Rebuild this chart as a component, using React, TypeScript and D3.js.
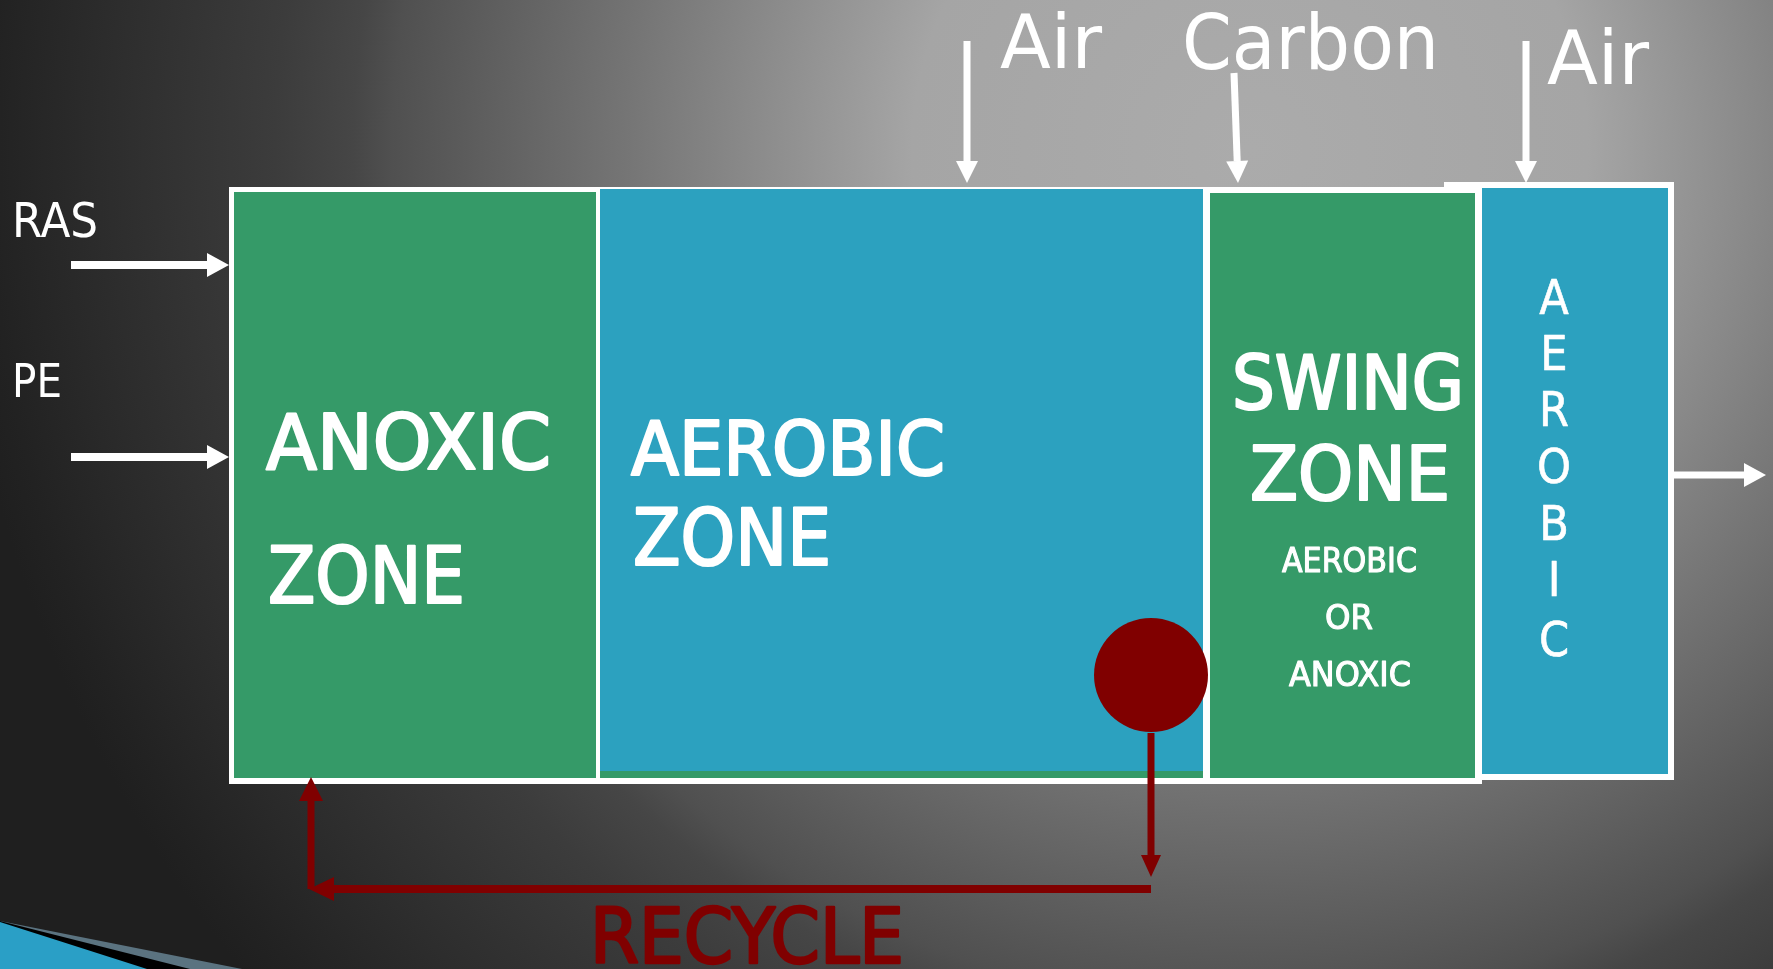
import React, { useRef, useEffect } from 'react';
import * as d3 from 'd3';

// labels of the diagram
const feedLabels = ['Air', 'Carbon', 'Air'];
const inflowLabels = ['RAS', 'PE'];
const zoneLabels = [['ANOXIC', 'ZONE'], ['AEROBIC', 'ZONE'], ['SWING', 'ZONE']];
const swingSubLabels = ['AEROBIC', 'OR', 'ANOXIC'];
const sideZoneLetters = ['A', 'E', 'R', 'O', 'B', 'I', 'C'];
const recycleLabel = 'RECYCLE';

const W = 1773;
const H = 969;
const GREEN = '#359a68';
const BLUE = '#2ca1bf';
const RED = '#800000';
const FONT = '"DejaVu Sans Condensed", "DejaVu Sans", sans-serif';

function App() {
    const ref = useRef(null);

    useEffect(() => {
        const svg = d3.select(ref.current);
        svg.selectAll('*').remove();

        // background
        const defs = svg.append('defs');
        const grad = defs.append('radialGradient')
            .attr('id', 'bg')
            .attr('gradientUnits', 'userSpaceOnUse')
            .attr('cx', 1250).attr('cy', 150).attr('r', 1300);
        [[0, '#ababab'], [0.26, '#a5a5a5'], [0.48, '#757575'], [0.66, '#505050'], [0.69, '#464646'], [0.75, '#3c3c3c'], [0.97, '#222'], [1, '#1f1f1f']]
            .forEach(([o, c]) => grad.append('stop').attr('offset', o).attr('stop-color', c));
        svg.append('rect').attr('width', W).attr('height', H).attr('fill', 'url(#bg)');

        // template swoosh bottom left
        const sw = svg.append('g');
        sw.append('polygon').attr('points', '0,921 242,969 0,969').attr('fill', '#5b7380');
        sw.append('polygon').attr('points', '0,921 190,969 0,969').attr('fill', '#000');
        sw.append('polygon').attr('points', '0,922 147,969 0,969').attr('fill', '#2a9fc6');

        // boxes
        const g = svg.append('g');
        g.append('rect').attr('x', 229).attr('y', 187).attr('width', 1482 - 229).attr('height', 784 - 187).attr('fill', '#fff');
        g.append('rect').attr('x', 234).attr('y', 192).attr('width', 596 - 234).attr('height', 778 - 192).attr('fill', GREEN);
        g.append('rect').attr('x', 600).attr('y', 771).attr('width', 1203 - 600).attr('height', 7).attr('fill', GREEN);
        g.append('rect').attr('x', 600).attr('y', 189).attr('width', 1203 - 600).attr('height', 771 - 189).attr('fill', BLUE);
        g.append('rect').attr('x', 1210).attr('y', 193).attr('width', 1475 - 1210).attr('height', 778 - 193).attr('fill', GREEN);
        g.append('rect').attr('x', 1444).attr('y', 182).attr('width', 40).attr('height', 6).attr('fill', '#fff');
        g.append('rect').attr('x', 1475).attr('y', 182).attr('width', 1674 - 1475).attr('height', 780 - 182).attr('fill', '#fff');
        g.append('rect').attr('x', 1482).attr('y', 188).attr('width', 1668 - 1482).attr('height', 774 - 188).attr('fill', BLUE);

        // arrows
        const arrow = (x1, y1, x2, y2, color, sw, head, half) => {
            const a = Math.atan2(y2 - y1, x2 - x1);
            const bx = x2 - head * Math.cos(a), by = y2 - head * Math.sin(a);
            svg.append('line')
                .attr('x1', x1).attr('y1', y1).attr('x2', bx).attr('y2', by)
                .attr('stroke', color).attr('stroke-width', sw);
            const px = -Math.sin(a) * half, py = Math.cos(a) * half;
            svg.append('polygon')
                .attr('points', [[x2, y2], [bx + px, by + py], [bx - px, by - py]].map(p => p.join(',')).join(' '))
                .attr('fill', color);
        };

        const feedX = [[967, 967], [1234, 1238], [1526, 1526]];
        const feedTop = [41, 73, 41];
        feedLabels.forEach((d, i) => arrow(feedX[i][0], feedTop[i], feedX[i][1], 183, '#fff', 7, 22, 11));
        const inflowY = [265, 457];
        inflowLabels.forEach((d, i) => arrow(71, inflowY[i], 229, inflowY[i], '#fff', 8, 22, 12));
        arrow(1674, 475, 1766, 475, '#fff', 7, 22, 12);

        // recycle loop
        svg.append('ellipse').attr('cx', 1151).attr('cy', 675).attr('rx', 57).attr('ry', 57).attr('fill', RED);
        arrow(1151, 733, 1151, 877, RED, 7, 22, 10);
        svg.append('line').attr('x1', 1151).attr('y1', 889).attr('x2', 330).attr('y2', 889)
            .attr('stroke', RED).attr('stroke-width', 8);
        arrow(330, 889, 309, 889, RED, 8, 25, 12);
        arrow(311, 889, 311, 777, RED, 7, 24, 12);

        // text helper
        const label = (t, x, y, w, fs, opts = {}) => {
            const color = opts.color || '#fff';
            const el = svg.append('text')
                .attr('x', x).attr('y', y)
                .attr('fill', color)
                .attr('font-family', FONT)
                .attr('font-size', fs)
                .attr('text-anchor', opts.anchor || 'start')
                .text(t);
            if (opts.heavy) el.attr('stroke', color).attr('stroke-width', opts.heavy).attr('stroke-linejoin', 'round');
            if (w) el.attr('textLength', w).attr('lengthAdjust', 'spacingAndGlyphs');
            return el;
        };

        const feedPos = [[1000, 68, 102, 74], [1182, 69, 257, 77], [1547, 84, 102, 75]];
        feedLabels.forEach((d, i) => label(d, feedPos[i][0], feedPos[i][1], feedPos[i][2], feedPos[i][3]));
        const inflowPos = [[12, 237, 86, 48], [12, 397, 50, 47]];
        inflowLabels.forEach((d, i) => label(d, inflowPos[i][0], inflowPos[i][1], inflowPos[i][2], inflowPos[i][3]));

        const zonePos = [
            [[266, 469, 285, 76], [268, 603, 197, 79]],
            [[631, 475, 314, 74], [633, 565, 198, 79]],
            [[1232, 409, 232, 75], [1250, 500, 200, 75]],
        ];
        zoneLabels.forEach((lines, i) => lines.forEach((t, j) => {
            const p = zonePos[i][j];
            label(t, p[0], p[1], p[2], p[3], { heavy: 2.2 });
        }));

        const subPos = [[1282, 572, 135], [1325, 629, 48], [1289, 686, 122]];
        swingSubLabels.forEach((t, i) => label(t, subPos[i][0], subPos[i][1], subPos[i][2], 33, { heavy: 1 }));

        const letterY = [314, 370, 426, 483, 540, 596, 656];
        sideZoneLetters.forEach((t, i) => label(t, 1554, letterY[i], null, 48, { anchor: 'middle', heavy: 0.6 }));

        label(recycleLabel, 590, 963, 314, 76, { color: RED, heavy: 2.5 });
    }, []);

    return (
        <svg ref={ref} width={W} height={H}
            style={{ position: 'fixed', left: 0, top: 0, display: 'block' }}>
        </svg>
    );
}

export default App;
